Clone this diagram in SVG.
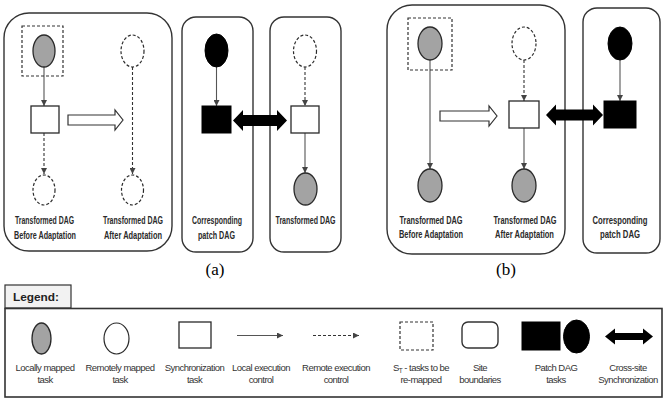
<svg xmlns="http://www.w3.org/2000/svg" width="665" height="401" viewBox="0 0 665 401">
  <style>
    .site { fill: #fff; stroke: #333; stroke-width: 1.4; }
    .local { fill: #a3a3a3; stroke: #2a2a2a; stroke-width: 1.3; }
    .remote { fill: #fff; stroke: #2a2a2a; stroke-width: 1.2; stroke-dasharray: 3 2; }
    .remoteSolid { fill: #fff; stroke: #2a2a2a; stroke-width: 1.2; }
    .sync { fill: #fff; stroke: #2a2a2a; stroke-width: 1.3; }
    .patch { fill: #000; stroke: #000; stroke-width: 1; }
    .remap { fill: none; stroke: #333; stroke-width: 1.2; stroke-dasharray: 3 2; }
    .ctl { stroke: #555; stroke-width: 1.1; fill: none; }
    .rctl { stroke: #333; stroke-width: 1.1; fill: none; stroke-dasharray: 3 2; }
    .hollow { fill: #fff; stroke: #333; stroke-width: 1.2; }
    .xsync { fill: #000; }
    .cap { font-family: "Liberation Sans", Arial, sans-serif; font-size: 10px; font-weight: bold; fill: #2a2a2a; text-anchor: middle; }
    .leg { font-family: "Liberation Sans", Arial, sans-serif; font-size: 9.5px; letter-spacing: -0.55px; fill: #333; text-anchor: middle; }
    .sub { font-family: "Liberation Serif", "Times New Roman", serif; font-size: 17px; fill: #000; text-anchor: middle; }
  </style>
  <defs>
    <marker id="ah" markerUnits="userSpaceOnUse" markerWidth="7" markerHeight="6" refX="6" refY="3" orient="auto">
      <path d="M0,0 L6,3 L0,6 z" fill="#444"/>
    </marker>
  </defs>

  <!-- site boundaries, panel (a) -->
  <g id="site-a1"><rect class="site" x="4" y="13" width="168" height="238" rx="25"/></g>
  <g id="site-a2"><rect class="site" x="182" y="17" width="71" height="235" rx="14"/></g>
  <g id="site-a3"><rect class="site" x="270" y="17" width="71" height="235" rx="14"/></g>
  <!-- site boundaries, panel (b) -->
  <g id="site-b1"><rect class="site" x="387" y="5" width="178" height="249" rx="25"/></g>
  <g id="site-b2"><rect class="site" x="583" y="8" width="77" height="245" rx="14"/></g>

  <!-- connectors -->
  <g id="connectors">
    <!-- panel (a), before adaptation -->
    <line class="ctl" x1="44" y1="67" x2="44" y2="106" marker-end="url(#ah)"/>
    <line class="rctl" x1="44" y1="133" x2="44" y2="174" marker-end="url(#ah)"/>
    <!-- panel (a), after adaptation -->
    <line class="rctl" x1="132.5" y1="67" x2="132.5" y2="174" marker-end="url(#ah)"/>
    <!-- panel (a), patch DAG -->
    <line class="ctl" x1="216.5" y1="67" x2="216.5" y2="106" marker-end="url(#ah)"/>
    <!-- panel (a), transformed DAG -->
    <line class="rctl" x1="305" y1="67" x2="305" y2="106" marker-end="url(#ah)"/>
    <line class="ctl" x1="305" y1="133" x2="305" y2="173" marker-end="url(#ah)"/>
    <!-- panel (b), before adaptation -->
    <line class="ctl" x1="430" y1="60" x2="430" y2="169" marker-end="url(#ah)"/>
    <!-- panel (b), after adaptation -->
    <line class="rctl" x1="524" y1="60" x2="524" y2="101" marker-end="url(#ah)"/>
    <line class="ctl" x1="524" y1="128" x2="524" y2="169" marker-end="url(#ah)"/>
    <!-- panel (b), patch DAG -->
    <line class="ctl" x1="620" y1="60" x2="620" y2="101" marker-end="url(#ah)"/>

    <!-- adaptation arrows -->
    <path class="hollow" d="M68,115 H115 V110 L123,120 L115,130 V125 H68 Z"/>
    <path class="hollow" d="M440,111 H489 V106 L497,116 L489,126 V121 H440 Z"/>

    <!-- cross-site synchronization -->
    <path class="xsync" d="M233,120.5 L243,110 V115 H277 V110 L287,120.5 L277,131 V126 H243 V131 Z"/>
    <path class="xsync" d="M546,115 L556,104.5 V109.5 H593 V104.5 L603,115 L593,125.5 V120.5 H556 V125.5 Z"/>
  </g>

  <!-- panel (a) nodes -->
  <g id="a1-remap"><rect class="remap" x="22" y="26" width="41" height="50"/></g>
  <g id="a1-t1"><ellipse class="local" cx="44" cy="51" rx="11" ry="16"/></g>
  <g id="a1-sync"><rect class="sync" x="31" y="106" width="28" height="27"/></g>
  <g id="a1-t2"><ellipse class="remote" cx="44" cy="190" rx="11" ry="15"/></g>
  <g id="a1b-t1"><ellipse class="remote" cx="132.5" cy="51" rx="11.5" ry="16"/></g>
  <g id="a1b-t2"><ellipse class="remote" cx="132.5" cy="190" rx="11" ry="15"/></g>
  <g id="a2-p1"><ellipse class="patch" cx="216.5" cy="50.5" rx="11.5" ry="16.5"/></g>
  <g id="a2-p2"><rect class="patch" x="202" y="106" width="29" height="27"/></g>
  <g id="a3-t1"><ellipse class="remote" cx="305" cy="51" rx="11.5" ry="16"/></g>
  <g id="a3-sync"><rect class="sync" x="291" y="106" width="28" height="27"/></g>
  <g id="a3-t2"><ellipse class="local" cx="305.5" cy="189" rx="11.5" ry="16"/></g>

  <!-- panel (b) nodes -->
  <g id="b1-remap"><rect class="remap" x="408" y="18" width="44" height="52"/></g>
  <g id="b1-t1"><ellipse class="local" cx="430" cy="43.5" rx="12" ry="16.5"/></g>
  <g id="b1-t2"><ellipse class="local" cx="430" cy="185.5" rx="12" ry="16.5"/></g>
  <g id="b1b-t1"><ellipse class="remote" cx="524" cy="43.5" rx="12" ry="16.5"/></g>
  <g id="b1b-sync"><rect class="sync" x="509" y="101" width="30" height="27"/></g>
  <g id="b1b-t2"><ellipse class="local" cx="524" cy="185.5" rx="12" ry="16.5"/></g>
  <g id="b2-p1"><ellipse class="patch" cx="620" cy="43.5" rx="12" ry="16.5"/></g>
  <g id="b2-p2"><rect class="patch" x="604" y="101" width="32" height="27"/></g>

  <!-- captions -->
  <g id="captions">
    <text class="cap" x="44.5" y="224" textLength="59" lengthAdjust="spacingAndGlyphs">Transformed DAG</text>
    <text class="cap" x="45" y="239" textLength="62" lengthAdjust="spacingAndGlyphs">Before Adaptation</text>
    <text class="cap" x="133" y="224" textLength="60" lengthAdjust="spacingAndGlyphs">Transformed DAG</text>
    <text class="cap" x="133" y="239" textLength="58" lengthAdjust="spacingAndGlyphs">After Adaptation</text>
    <text class="cap" x="217" y="224" textLength="50" lengthAdjust="spacingAndGlyphs">Corresponding</text>
    <text class="cap" x="216.5" y="239" textLength="37" lengthAdjust="spacingAndGlyphs">patch DAG</text>
    <text class="cap" x="305.5" y="224" textLength="60" lengthAdjust="spacingAndGlyphs">Transformed DAG</text>
    <text class="cap" x="431" y="224" textLength="63" lengthAdjust="spacingAndGlyphs">Transformed DAG</text>
    <text class="cap" x="431" y="238" textLength="64" lengthAdjust="spacingAndGlyphs">Before Adaptation</text>
    <text class="cap" x="525" y="224" textLength="63" lengthAdjust="spacingAndGlyphs">Transformed DAG</text>
    <text class="cap" x="524.5" y="238" textLength="59" lengthAdjust="spacingAndGlyphs">After Adaptation</text>
    <text class="cap" x="620" y="224" textLength="55" lengthAdjust="spacingAndGlyphs">Corresponding</text>
    <text class="cap" x="620" y="238" textLength="40" lengthAdjust="spacingAndGlyphs">patch DAG</text>
    <text class="sub" x="215" y="275">(a)</text>
    <text class="sub" x="506" y="275">(b)</text>
  </g>

  <!-- legend -->
  <g id="legend">
    <rect x="5" y="285" width="66" height="23" fill="#f2f2f2" stroke="#333" stroke-width="1.2"/>
    <text x="13" y="301" font-family="Liberation Sans, Arial, sans-serif" font-size="10.5px" font-weight="bold" fill="#222" textLength="46" lengthAdjust="spacingAndGlyphs">Legend:</text>
    <rect x="5" y="308.5" width="657" height="88.5" fill="#fff" stroke="#333" stroke-width="1.6"/>

    <ellipse class="local" cx="41.5" cy="338.5" rx="9.5" ry="15.5"/>
    <text class="leg" x="45" y="371">Locally mapped</text>
    <text class="leg" x="45" y="383">task</text>

    <ellipse class="remoteSolid" cx="116.5" cy="338.5" rx="12.5" ry="15.5"/>
    <text class="leg" x="120" y="371">Remotely mapped</text>
    <text class="leg" x="120" y="383">task</text>

    <rect class="sync" x="179" y="322" width="32" height="26"/>
    <text class="leg" x="194.5" y="371">Synchronization</text>
    <text class="leg" x="194.5" y="383">task</text>

    <line class="ctl" x1="237" y1="335.5" x2="283" y2="335.5" stroke="#222" marker-end="url(#ah)"/>
    <text class="leg" x="261" y="371">Local execution</text>
    <text class="leg" x="261" y="383">control</text>

    <line class="rctl" x1="313" y1="335.5" x2="359" y2="335.5" marker-end="url(#ah)"/>
    <text class="leg" x="336" y="371">Remote execution</text>
    <text class="leg" x="336" y="383">control</text>

    <rect class="remap" x="400" y="322" width="33" height="28"/>
    <text class="leg" x="421" y="371">S<tspan font-size="6.5px" dy="2">T</tspan><tspan dy="-2"> - tasks to be</tspan></text>
    <text class="leg" x="421" y="383">re-mapped</text>

    <rect class="site" x="462" y="322" width="36" height="26" rx="6"/>
    <text class="leg" x="480" y="371">Site</text>
    <text class="leg" x="480" y="383">boundaries</text>

    <rect class="patch" x="522" y="322" width="38" height="28"/>
    <ellipse class="patch" cx="576.5" cy="336.5" rx="13" ry="16.5"/>
    <text class="leg" x="556" y="371">Patch DAG</text>
    <text class="leg" x="556" y="383">tasks</text>

    <path class="xsync" d="M605,336.5 L615,328.5 V333 H643 V328.5 L653,336.5 L643,344.5 V340 H615 V344.5 Z"/>
    <text class="leg" x="628" y="371">Cross-site</text>
    <text class="leg" x="628" y="383">Synchronization</text>
  </g>
</svg>
